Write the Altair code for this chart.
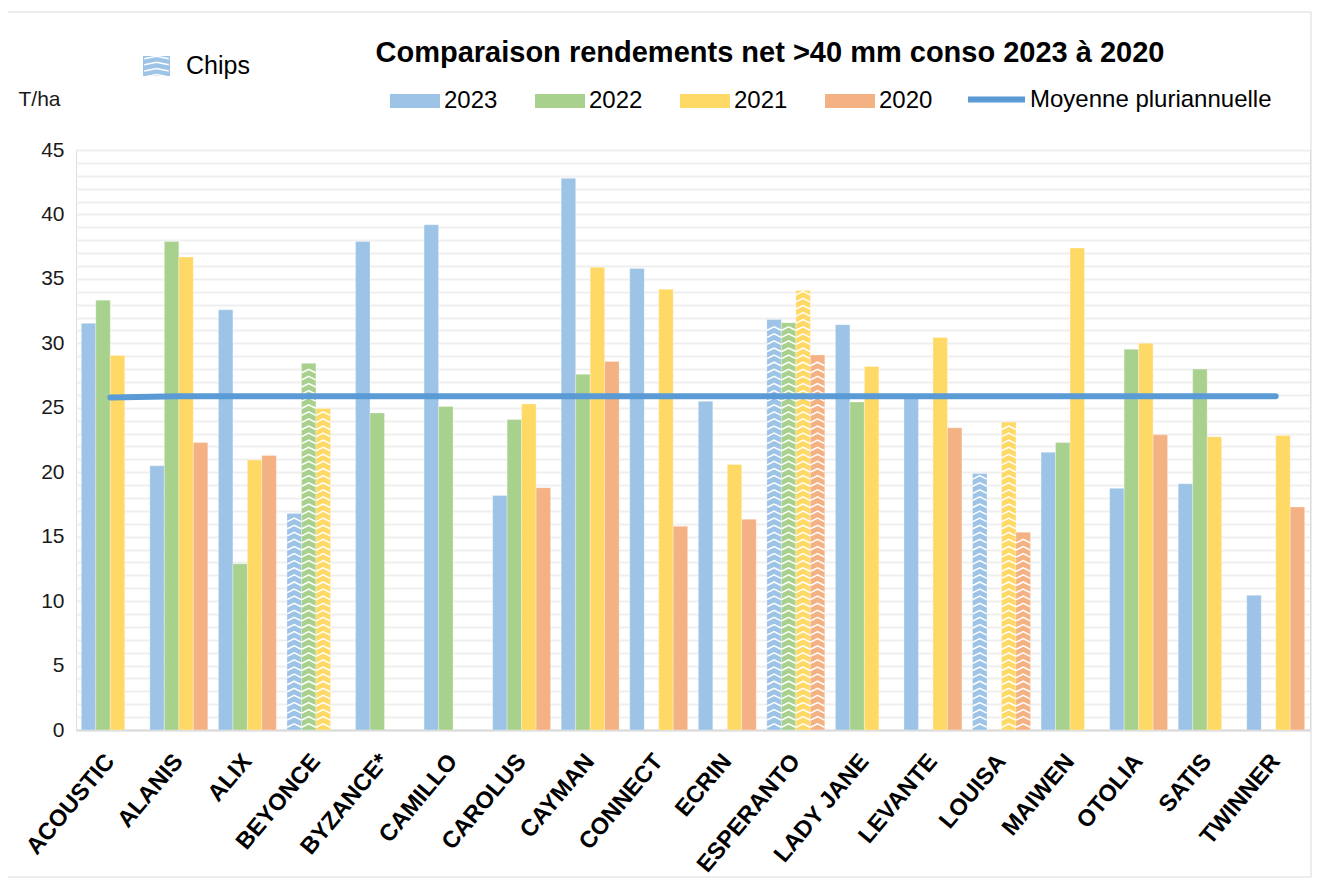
import altair as alt
import pandas as pd

varieties = ["ACOUSTIC", "ALANIS", "ALIX", "BEYONCE", "BYZANCE*", "CAMILLO", "CAROLUS",
             "CAYMAN", "CONNECT", "ECRIN", "ESPERANTO", "LADY JANE", "LEVANTE", "LOUISA",
             "MAIWEN", "OTOLIA", "SATIS", "TWINNER"]
years = ["2023", "2022", "2021", "2020"]
y2023 = [31.55, 20.5, 32.6, 16.8, 37.9, 39.2, 18.2, 42.8, 35.8, 25.5, 31.85, 31.45, 25.9, 19.9, 21.55, 18.75, 19.1, 10.45]
y2022 = [33.35, 37.9, 12.9, 28.45, 24.6, 25.1, 24.1, 27.6, None, None, 31.6, 25.45, None, None, 22.3, 29.55, 28.0, None]
y2021 = [29.05, 36.7, 20.95, 24.95, None, None, 25.3, 35.9, 34.2, 20.6, 34.1, 28.2, 30.45, 23.9, 37.4, 30.0, 22.75, 22.85]
y2020 = [None, 22.3, 21.3, None, None, None, 18.8, 28.6, 15.8, 16.35, 29.1, None, 23.45, 15.35, None, 22.9, None, 17.3]
moyenne = [25.8, 25.9, 25.9, 25.9, 25.9, 25.9, 25.9, 25.9, 25.9, 25.9, 25.9, 25.9, 25.9, 25.9, 25.9, 25.9, 25.9, 25.9]
chips = ["BEYONCE", "ESPERANTO", "LOUISA"]
year_colors = ["#9DC3E6", "#A9D18E", "#FFD966", "#F4B183"]
line_name = "Moyenne pluriannuelle"
line_color = "#5B9BD5"
title_text = "Comparaison rendements net >40 mm conso 2023 à 2020"

FONT = "Liberation Sans"

rows = []
for yr, vals in zip(years, [y2023, y2022, y2021, y2020]):
    for v, val in zip(varieties, vals):
        if val is not None:
            rows.append({"variete": v, "annee": yr, "rendement": val, "chips": v in chips})
bars_df = pd.DataFrame(rows)

# white zigzag pattern rows for the "Chips" bars (decoration derived from the bar heights)
chev = []
for r in rows:
    if r["chips"]:
        k = 0
        while 0.35 + k * 0.55 < r["rendement"] - 0.15:
            chev.append({"variete": r["variete"], "annee": r["annee"], "rendement": 0.35 + k * 0.55})
            k += 1
chev_df = pd.DataFrame(chev)

line_df = pd.DataFrame({"variete": varieties, "rendement": moyenne, "serie": [line_name] * len(varieties)})

x_enc = alt.X("variete:N", sort=varieties,
              scale=alt.Scale(domain=varieties, paddingInner=0.155, paddingOuter=0.0775),
              axis=alt.Axis(title=None, labelAngle=310, labelFontSize=23.5, labelFontWeight="bold",
                            labelFont=FONT, labelColor="black", labelAlign="right",
                            labelBaseline="middle", labelPadding=27, ticks=False,
                            domainColor="#D9D9D9", domainWidth=2, grid=False,
                            labelOverlap=False, labelLimit=0))
y_enc = alt.Y("rendement:Q", scale=alt.Scale(domain=[0, 45], nice=False),
              axis=alt.Axis(values=list(range(46)),
                            labelExpr="datum.value % 5 === 0 ? datum.label : ''",
                            ticks=False, domain=False, gridColor="#EFEFEF", gridWidth=2,
                            labelFontSize=21, labelFont=FONT, labelColor="#1a1a1a", labelPadding=12,
                            title="T/ha", titleAngle=0, titleX=-58, titleY=-45,
                            titleAlign="left", titleBaseline="alphabetic",
                            titleFontWeight="normal", titleFontSize=21, titleFont=FONT,
                            titleColor="#1a1a1a"))
xoff = alt.XOffset("annee:N", scale=alt.Scale(domain=years, paddingInner=0, paddingOuter=0))

bars = alt.Chart(bars_df).mark_bar(stroke="white", strokeWidth=0.6, strokeOpacity=0.5).encode(
    x=x_enc, xOffset=xoff, y=y_enc,
    color=alt.Color("annee:N", scale=alt.Scale(domain=years, range=year_colors),
                    legend=alt.Legend(title=None, orient="none", legendX=314, legendY=-74,
                                      direction="horizontal",
                                      symbolType="M-1,-0.28L1,-0.28L1,0.28L-1,0.28Z",
                                      symbolSize=2500, symbolStrokeWidth=0,
                                      labelFontSize=24, labelFont=FONT, labelColor="black",
                                      labelOffset=4, columnPadding=37, padding=0)),
)

zigzag = alt.Chart(chev_df).mark_point(
    shape="M-1,0.25L0,-0.25L1,0.25", filled=False, stroke="white", strokeWidth=1.5,
    size=196, opacity=1,
).encode(x=x_enc, xOffset=xoff, y=y_enc)

line = alt.Chart(line_df).mark_line(strokeWidth=6, strokeCap="round").encode(
    x=x_enc, y=y_enc,
    stroke=alt.Stroke("serie:N", scale=alt.Scale(domain=[line_name], range=[line_color]),
                      legend=alt.Legend(title=None, orient="none", legendX=889, legendY=-82,
                                        symbolType="stroke", symbolSize=3249,
                                        symbolStrokeWidth=6, labelFontSize=24, labelFont=FONT,
                                        labelColor="black", labelOffset=2, padding=0,
                                        labelLimit=0)),
)

one = pd.DataFrame({"t": ["Chips"]})
frame = alt.Chart(one).mark_rect(fill=None, stroke="#D9D9D9", strokeWidth=1).encode(
    x=alt.value(-69), x2=alt.value(1235), y=alt.value(-138), y2=alt.value(727))
chips_swatch = alt.Chart(one).mark_rect(color="#9DC3E6").encode(
    x=alt.value(67), x2=alt.value(94), y=alt.value(-94), y2=alt.value(-74))
chips_zig = alt.Chart(one).mark_point(
    shape="M-1,-0.6L0,-0.8L1,-0.6M-1,-0.1L0,-0.3L1,-0.1M-1,0.4L0,0.2L1,0.4M-1,0.9L0,0.7L1,0.9",
    filled=False, stroke="white", strokeWidth=1.5, size=600, opacity=1,
).encode(x=alt.value(80.5), y=alt.value(-84))
chips_text = alt.Chart(one).mark_text(align="left", baseline="alphabetic", fontSize=25,
                                      font=FONT, color="black").encode(
    x=alt.value(110), y=alt.value(-76), text="t:N")
title = alt.Chart(pd.DataFrame({"t": [title_text]})).mark_text(
    align="center", baseline="alphabetic", fontSize=29, fontWeight="bold", font=FONT,
    color="black").encode(x=alt.value(694), y=alt.value(-88), text="t:N")

chart = alt.layer(frame, bars, zigzag, line, chips_swatch, chips_zig, chips_text, title).properties(
    width=1234, height=580,
    autosize=alt.AutoSizeParams(type="none"),
    padding={"left": 68, "top": 142, "right": 2, "bottom": 152},
).configure_view(stroke=None).configure(font=FONT)

chart.save("out.html", embed_options={"renderer": "svg", "actions": False})
